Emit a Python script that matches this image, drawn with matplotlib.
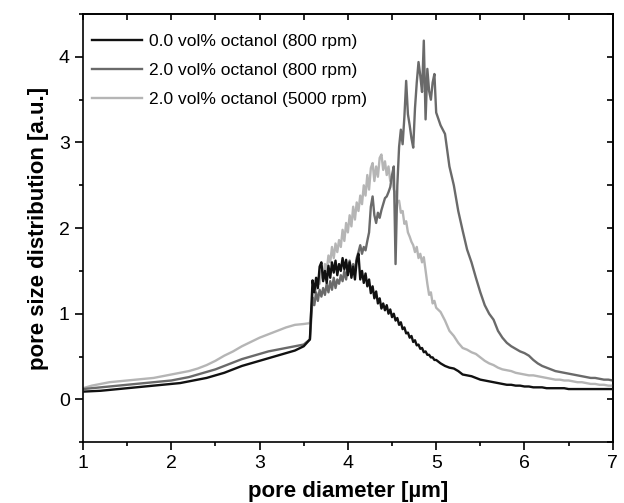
import numpy as np
import matplotlib
matplotlib.use("Agg")
import matplotlib.pyplot as plt
from matplotlib.ticker import MultipleLocator

plt.rcParams['font.family'] = ['Liberation Sans', 'DejaVu Sans']

# ---- data ----
x_smooth = [1.0, 1.1, 1.2, 1.3, 1.4, 1.5, 1.6, 1.7, 1.8, 1.9, 2.0, 2.1, 2.2, 2.3,
            2.4, 2.5, 2.6, 2.7, 2.8, 2.9, 3.0, 3.1, 3.2, 3.3, 3.4, 3.5, 3.57]
x_noisy = list(np.round(np.arange(3.60, 5.001, 0.02), 2))
x_tail = list(np.round(np.arange(5.05, 7.001, 0.05), 2))

black_smooth = [0.09, 0.095, 0.10, 0.11, 0.12, 0.13, 0.14, 0.15, 0.16, 0.17, 0.18, 0.19, 0.21, 0.23,
                0.25, 0.28, 0.31, 0.35, 0.39, 0.42, 0.45, 0.48, 0.51, 0.54, 0.57, 0.62, 0.70]
black_noisy = [1.39, 1.25, 1.42, 1.30, 1.55, 1.60, 1.38, 1.50, 1.36, 1.56,
               1.42, 1.60, 1.48, 1.62, 1.45, 1.58, 1.50, 1.65, 1.52, 1.63,
               1.45, 1.60, 1.42, 1.55, 1.40, 1.62, 1.70, 1.40, 1.50, 1.36,
               1.47, 1.32, 1.40, 1.24, 1.32, 1.18, 1.26, 1.12, 1.18, 1.06,
               1.12, 1.04, 1.10, 1.00, 1.05, 0.96, 1.00, 0.92, 0.95, 0.87,
               0.90, 0.82, 0.84, 0.77, 0.78, 0.72, 0.74, 0.67, 0.69, 0.63,
               0.64, 0.59, 0.60, 0.55, 0.56, 0.52, 0.52, 0.49, 0.49, 0.46, 0.46]
black_tail = [0.42, 0.39, 0.37, 0.36, 0.33, 0.29, 0.28, 0.27, 0.25, 0.23,
              0.22, 0.21, 0.20, 0.19, 0.18, 0.17, 0.17, 0.16, 0.16, 0.15,
              0.15, 0.14, 0.14, 0.14, 0.13, 0.13, 0.13, 0.13, 0.13, 0.12,
              0.12, 0.12, 0.12, 0.12, 0.12, 0.12, 0.12, 0.12, 0.12, 0.12]

dark_smooth = [0.12, 0.13, 0.14, 0.15, 0.16, 0.17, 0.18, 0.19, 0.20, 0.21, 0.22, 0.24, 0.26, 0.29,
               0.32, 0.35, 0.39, 0.43, 0.47, 0.50, 0.53, 0.56, 0.58, 0.60, 0.62, 0.64, 0.70]
dark_noisy = [1.19, 1.10, 1.25, 1.15, 1.28, 1.20, 1.30, 1.22, 1.35, 1.25,
              1.38, 1.28, 1.42, 1.30, 1.40, 1.35, 1.45, 1.38, 1.50, 1.40,
              1.55, 1.62, 1.48, 1.58, 1.50, 1.65, 1.72, 1.80, 1.70, 1.78,
              1.74, 1.85, 1.95, 2.25, 2.37, 2.15, 2.06, 2.18, 2.12, 2.21,
              2.28, 2.35, 2.37, 2.42, 2.48, 2.62, 2.72, 1.58, 2.50, 2.95,
              3.15, 2.98, 3.30, 3.72, 3.33, 3.20, 3.05, 2.94, 3.40, 3.70,
              3.94, 3.78, 3.59, 4.19, 3.27, 3.86, 3.60, 3.50, 3.70, 3.80, 3.35]
dark_tail = [3.20, 3.10, 2.72, 2.50, 2.20, 1.97, 1.75, 1.60, 1.42, 1.25,
             1.10, 1.00, 0.93, 0.80, 0.72, 0.66, 0.62, 0.59, 0.56, 0.54,
             0.51, 0.46, 0.42, 0.39, 0.37, 0.35, 0.33, 0.32, 0.31, 0.30,
             0.29, 0.28, 0.27, 0.26, 0.25, 0.25, 0.24, 0.23, 0.23, 0.22]

light_smooth = [0.13, 0.16, 0.18, 0.20, 0.21, 0.22, 0.23, 0.24, 0.25, 0.27, 0.29, 0.31, 0.33, 0.36,
                0.40, 0.45, 0.51, 0.56, 0.62, 0.67, 0.72, 0.76, 0.80, 0.84, 0.87, 0.88, 0.89]
light_noisy = [1.20, 1.35, 1.28, 1.42, 1.35, 1.50, 1.40, 1.58, 1.50, 1.68,
               1.60, 1.78, 1.65, 1.82, 1.72, 1.86, 1.78, 1.98, 1.85, 2.06,
               1.95, 2.15, 2.02, 2.25, 2.10, 2.30, 2.20, 2.38, 2.28, 2.50,
               2.38, 2.62, 2.45, 2.70, 2.76, 2.55, 2.72, 2.60, 2.82, 2.86,
               2.68, 2.78, 2.62, 2.72, 2.55, 2.60, 2.45, 2.41, 2.30, 2.32,
               2.18, 2.20, 2.05, 2.08, 1.95, 1.90, 1.84, 1.80, 1.72, 1.78,
               1.65, 1.70, 1.60, 1.66, 1.50, 1.35, 1.22, 1.25, 1.12, 1.15, 1.07]
light_tail = [1.02, 0.92, 0.80, 0.74, 0.66, 0.60, 0.58, 0.55, 0.53, 0.49,
              0.45, 0.42, 0.40, 0.37, 0.35, 0.34, 0.33, 0.31, 0.30, 0.29,
              0.28, 0.28, 0.27, 0.26, 0.25, 0.24, 0.23, 0.23, 0.22, 0.22,
              0.21, 0.20, 0.20, 0.19, 0.18, 0.18, 0.17, 0.17, 0.16, 0.16]

labels = ["0.0 vol% octanol (800 rpm)",
          "2.0 vol% octanol (800 rpm)",
          "2.0 vol% octanol (5000 rpm)"]
colors = ["#111111", "#6a6a6a", "#b5b5b5"]

x_all = x_smooth + x_noisy + x_tail
series = [black_smooth + black_noisy + black_tail,
          dark_smooth + dark_noisy + dark_tail,
          light_smooth + light_noisy + light_tail]

fig = plt.figure(figsize=(6.24, 5.03), dpi=100)
ax = fig.add_axes([0.133, 0.121, 0.849, 0.851])

handles = []
zorders = [3, 2, 1]
for y, c, lab, z in zip(series, colors, labels, zorders):
    h, = ax.plot(x_all, y, color=c, lw=1.7, label=lab, zorder=z)
    handles.append(h)

ax.set_xlim(1, 7)
ax.set_ylim(-0.5, 4.5)
ax.xaxis.set_major_locator(MultipleLocator(1))
ax.xaxis.set_minor_locator(MultipleLocator(0.5))
ax.yaxis.set_major_locator(MultipleLocator(1))
ax.yaxis.set_minor_locator(MultipleLocator(0.5))
ax.tick_params(which='major', direction='out', length=5.5, width=1.2, labelsize=14, pad=4)
ax.tick_params(which='minor', direction='out', length=3, width=1.2)
for s in ax.spines.values():
    s.set_linewidth(1.2)

secx = ax.secondary_xaxis('top')
secx.xaxis.set_major_locator(MultipleLocator(1))
secx.xaxis.set_minor_locator(MultipleLocator(0.5))
secx.tick_params(which='both', direction='in', length=4, width=1.2, labeltop=False)
secx.spines['top'].set_linewidth(1.2)
secy = ax.secondary_yaxis('right')
secy.yaxis.set_major_locator(MultipleLocator(1))
secy.yaxis.set_minor_locator(MultipleLocator(0.5))
secy.tick_params(which='both', direction='in', length=4, width=1.2, labelright=False)
secy.spines['right'].set_linewidth(1.2)

ax.set_xlabel("pore diameter [µm]", fontsize=16, fontweight='bold', labelpad=6)
ax.set_ylabel("pore size distribution [a.u.]", fontsize=16, fontweight='bold', labelpad=7)

ax.legend(handles=handles, loc='upper left', frameon=False, fontsize=12.5,
          handlelength=2.9, handletextpad=0.4, labelspacing=0.8,
          borderaxespad=0.3, bbox_to_anchor=(-0.006, 0.983))

fig.savefig("out.png", dpi=100)
